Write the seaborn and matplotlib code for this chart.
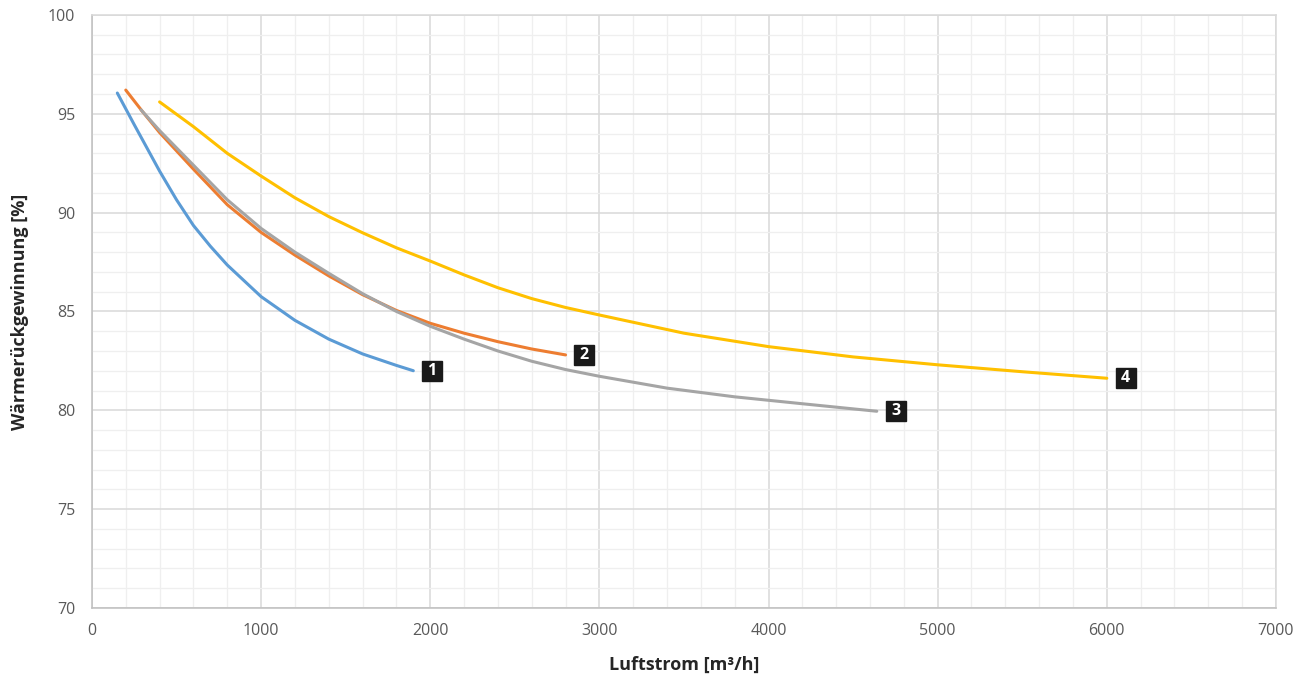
import pandas as pd
import matplotlib
matplotlib.use('Agg')
import matplotlib.pyplot as plt
import matplotlib.transforms as mtransforms
from matplotlib.ticker import MultipleLocator
import seaborn as sns

# values
curve_names = ['1', '2', '3', '4']
curve_colors = ['#5B9BD5', '#ED7D31', '#A5A5A5', '#FFC000']

x_1 = [150, 250, 400, 500, 600, 700, 800, 1000, 1200, 1400, 1600, 1800, 1900]
y_1 = [96.05, 94.45, 92.1, 90.65, 89.35, 88.3, 87.35, 85.75, 84.55, 83.6, 82.85, 82.27, 82.0]

x_2 = [200, 300, 400, 600, 800, 1000, 1200, 1400, 1600, 1800, 2000, 2200, 2400, 2600, 2800]
y_2 = [96.2, 95.1, 94.05, 92.2, 90.4, 89.0, 87.85, 86.8, 85.85, 85.05, 84.4, 83.9, 83.47, 83.1, 82.8]

x_3 = [290, 400, 600, 800, 1000, 1200, 1400, 1600, 1800, 2000, 2200, 2400, 2600, 2800, 3000, 3400, 3800, 4200, 4640]
y_3 = [95.2, 94.15, 92.4, 90.65, 89.2, 88.0, 86.93, 85.9, 85.0, 84.25, 83.6, 83.0, 82.48, 82.06, 81.72, 81.12, 80.68, 80.33, 79.95]

x_4 = [400, 600, 800, 1000, 1200, 1400, 1600, 1800, 2000, 2200, 2400, 2600, 2800, 3000, 3500, 4000, 4500, 5000, 5500, 6000]
y_4 = [95.6, 94.35, 93.0, 91.85, 90.75, 89.8, 88.98, 88.22, 87.55, 86.85, 86.2, 85.65, 85.2, 84.82, 83.9, 83.22, 82.7, 82.3, 81.95, 81.62]

xs = [x_1, x_2, x_3, x_4]
ys = [y_1, y_2, y_3, y_4]

rows = []
for name, xv, yv in zip(curve_names, xs, ys):
    for a, b in zip(xv, yv):
        rows.append({'curve': name, 'luftstrom': a, 'wrg': b})
df = pd.DataFrame(rows)

sns.set_theme(style='white')
plt.rcParams['font.family'] = ['Open Sans', 'DejaVu Sans']

fig = plt.figure(figsize=(13.06, 6.8), dpi=100)
ax = fig.add_axes([0.0704, 0.106, 0.9066, 0.872])

sns.lineplot(data=df, x='luftstrom', y='wrg', hue='curve', hue_order=curve_names,
             palette=curve_colors, estimator=None, sort=False, linewidth=2.2,
             legend=False, ax=ax)
for line in ax.lines:
    line.set_solid_joinstyle('round')
    line.set_solid_capstyle('round')

ax.set_xlim(0, 7000)
ax.set_ylim(70, 100)
ax.xaxis.set_major_locator(MultipleLocator(1000))
ax.xaxis.set_minor_locator(MultipleLocator(200))
ax.yaxis.set_major_locator(MultipleLocator(5))
ax.yaxis.set_minor_locator(MultipleLocator(1))
ax.grid(which='major', color='#d9d9d9', linewidth=1.1)
ax.grid(which='minor', color='#efefef', linewidth=0.9)
ax.set_axisbelow(True)
ax.tick_params(which='both', length=0)
ax.tick_params(axis='y', pad=12, labelsize=11.5, labelcolor='#595959')
ax.tick_params(axis='x', pad=11, labelsize=11.5, labelcolor='#595959')

for side in ['top', 'right']:
    ax.spines[side].set_color('#d9d9d9')
    ax.spines[side].set_linewidth(1.1)
for side in ['left', 'bottom']:
    ax.spines[side].set_color('#bfbfbf')
    ax.spines[side].set_linewidth(1.1)

ax.set_xlabel('Luftstrom [m³/h]', fontsize=13, fontweight='bold', color='#262626')
ax.set_ylabel('Wärmerückgewinnung [%]', fontsize=13, fontweight='bold', color='#262626')
ax.xaxis.set_label_coords(0.5, -0.080)
ax.yaxis.set_label_coords(-0.053, 0.5)

# numbered black tags at the end of each curve
shift = mtransforms.ScaledTranslation(13.5 / 72, 0, fig.dpi_scale_trans)
for name, xv, yv in zip(curve_names, xs, ys):
    tr = ax.transData + shift
    ax.plot([xv[-1]], [yv[-1]], marker='s', markersize=15, color='#1a1a1a',
            transform=tr, clip_on=False)
    ax.text(xv[-1], yv[-1], name, transform=tr, ha='center', va='center',
            color='white', fontsize=11.5, fontweight='bold')

plt.savefig('out.png', dpi=100)
plt.close()
